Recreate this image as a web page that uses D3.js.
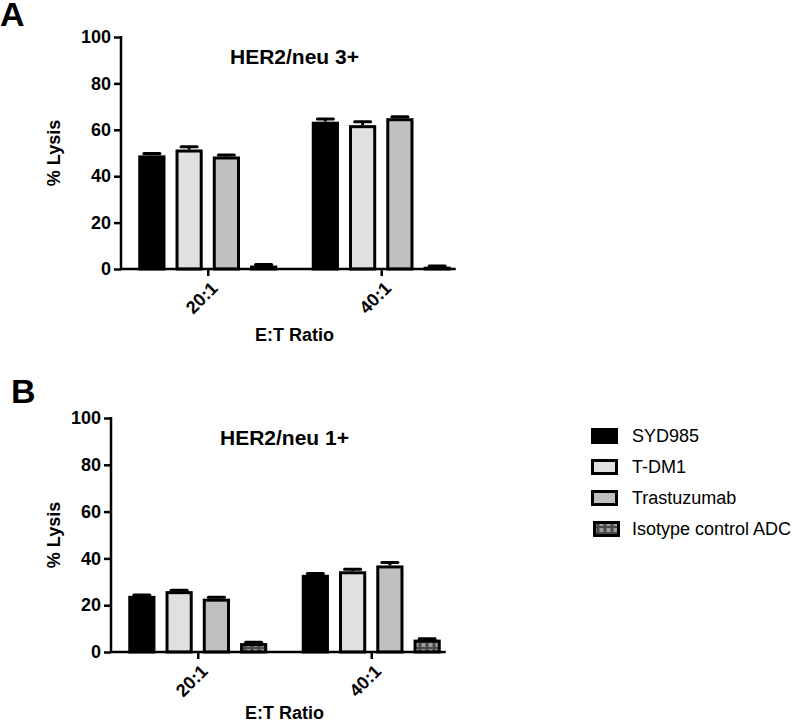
<!DOCTYPE html>
<html>
<head>
<meta charset="utf-8">
<script src="https://cdn.jsdelivr.net/npm/d3@7"></script>
<style>
	body { margin: 0; background: #fff; }
	svg text { font-family: "Liberation Sans", Arial, sans-serif; }
</style>
</head>
<body>
<div id="chart"></div>
<script>
var ratios = ['20:1', '40:1'];
var seriesNames = ['SYD985', 'T-DM1', 'Trastuzumab', 'Isotype control ADC'];
var yTicks = [0, 20, 40, 60, 80, 100];

// % lysis per series, one value per ratio
var lysis3 = [[49, 63.5], [51.5, 62], [48.5, 65], [1.5, 1]];
var err3 = [[0.8, 1.2], [1.2, 1.5], [0.6, 0.6], [0.4, 0.3]];
var lysis1 = [[24, 33], [26, 34.5], [22.8, 37], [3.8, 5.3]];
var err1 = [[0.4, 0.5], [0.4, 0.9], [0.6, 1.2], [0.4, 0.4]];

var fills = ['#000', '#e0e0e0', '#c0c0c0', 'url(#iso)'];

var svg = d3.select('#chart')
	.append('svg')
	.attr('width', 800)
	.attr('height', 725);

var pat = svg.append('defs').append('pattern')
	.attr('id', 'iso')
	.attr('patternUnits', 'userSpaceOnUse')
	.attr('width', 7)
	.attr('height', 6);
pat.append('rect').attr('width', 7).attr('height', 6).attr('fill', '#4a4a4a');
pat.append('rect').attr('x', 1.5).attr('y', 1).attr('width', 4).attr('height', 4).attr('fill', '#9c9c9c');

function panel(opts) {
	var y = d3.scaleLinear().domain([0, 100]).range([opts.bottom, opts.top]);
	var x = d3.scalePoint().domain(ratios).range([opts.left, opts.left + 347]).padding(0.5);
	var inner = d3.scaleBand().domain(seriesNames).range([-69.5, 69.5]).paddingInner(0.27);

	var g = svg.append('g');

	// bars
	seriesNames.forEach(function(name, i) {
		ratios.forEach(function(r, j) {
			var v = opts.values[i][j];
			var e = opts.errors[i][j];
			var bx = x(r) + inner(name);
			var bw = inner.bandwidth();
			var cx = bx + bw / 2;
			g.append('line')
				.attr('x1', cx).attr('x2', cx)
				.attr('y1', y(v)).attr('y2', y(v + e))
				.attr('stroke', '#000').attr('stroke-width', 3);
			g.append('line')
				.attr('x1', cx - 8).attr('x2', cx + 8)
				.attr('y1', y(v + e)).attr('y2', y(v + e))
				.attr('stroke', '#000').attr('stroke-width', 3)
				.attr('stroke-linecap', 'round');
			g.append('rect')
				.attr('x', bx + 1.5)
				.attr('y', y(v) + 1.5)
				.attr('width', bw - 3)
				.attr('height', Math.max(0, y(0) - y(v) - 1.5))
				.attr('fill', fills[i])
				.attr('stroke', '#000')
				.attr('stroke-width', 3);
		});
	});

	// y axis
	var yAxis = d3.axisLeft(y).tickValues(yTicks).tickSize(7).tickSizeOuter(0);
	var ya = g.append('g')
		.attr('transform', 'translate(' + opts.left + ',0)')
		.call(yAxis);
	ya.select('.domain').attr('stroke-width', 2.5).attr('d', 'M0,' + (opts.top - 1) + 'V' + opts.bottom);
	ya.selectAll('.tick line').attr('stroke-width', 2.5);
	ya.selectAll('.tick text')
		.attr('font-size', 18).attr('font-weight', 'bold').attr('fill', '#000')
		.attr('x', -10);

	// x axis
	var lastRight = x(ratios[1]) + inner(seriesNames[3]) + inner.bandwidth();
	var xAxis = d3.axisBottom(x).tickSize(7).tickSizeOuter(0);
	var xa = g.append('g')
		.attr('transform', 'translate(0,' + opts.bottom + ')')
		.call(xAxis);
	xa.select('.domain').attr('stroke-width', 2.5).attr('d', 'M' + opts.left + ',0H' + (lastRight + 5));
	xa.selectAll('.tick line').attr('stroke-width', 2.5);
	xa.selectAll('.tick text')
		.attr('font-size', 18).attr('font-weight', 'bold').attr('fill', '#000')
		.attr('text-anchor', 'end')
		.attr('dy', '0.35em')
		.attr('transform', 'translate(6,16) rotate(-45)')
		.attr('y', 0).attr('x', 0);

	// titles
	g.append('text')
		.attr('x', x(ratios[0]) + (x(ratios[1]) - x(ratios[0])) / 2)
		.attr('y', opts.top + 27)
		.attr('text-anchor', 'middle')
		.attr('font-size', 21).attr('font-weight', 'bold')
		.text(opts.title);

	g.append('text')
		.attr('x', x(ratios[0]) + (x(ratios[1]) - x(ratios[0])) / 2)
		.attr('y', opts.bottom + opts.xlabelOffset)
		.attr('text-anchor', 'middle')
		.attr('font-size', 18).attr('font-weight', 'bold')
		.text('E:T Ratio');

	g.append('text')
		.attr('transform', 'translate(' + (opts.left - opts.ylabelOffset) + ',' + (opts.top + opts.bottom) / 2 + ') rotate(-90)')
		.attr('text-anchor', 'middle')
		.attr('font-size', 18).attr('font-weight', 'bold')
		.text('% Lysis');

	g.append('text')
		.attr('x', opts.letterX).attr('y', opts.letterY)
		.attr('font-size', 34).attr('font-weight', 'bold')
		.text(opts.letter);
}

panel({ left: 121, top: 37, bottom: 269, values: lysis3, errors: err3, title: 'HER2/neu 3+',
	letter: 'A', letterX: 0, letterY: 26, ylabelOffset: 61, xlabelOffset: 72 });
panel({ left: 111, top: 418, bottom: 652, values: lysis1, errors: err1, title: 'HER2/neu 1+',
	letter: 'B', letterX: 11, letterY: 403, ylabelOffset: 51, xlabelOffset: 67 });

// legend
var legend = svg.append('g').attr('transform', 'translate(591,428)');
seriesNames.forEach(function(name, i) {
	var row = legend.append('g').attr('transform', 'translate(0,' + i * 31 + ')');
	row.append('rect')
		.attr('x', 1.5 + (i === 3 ? 2 : 0)).attr('y', 1.5)
		.attr('width', 24).attr('height', 13)
		.attr('fill', fills[i])
		.attr('stroke', '#000').attr('stroke-width', 3);
	row.append('text')
		.attr('x', 41).attr('y', 14)
		.attr('font-size', 18)
		.text(name);
});
</script>
</body>
</html>
